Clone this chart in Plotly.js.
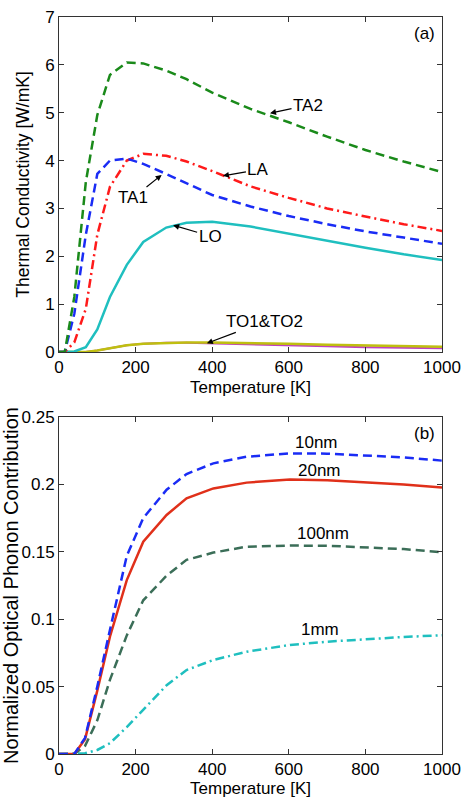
<!DOCTYPE html>
<html>
<head>
<meta charset="utf-8">
<script src="https://cdn.plot.ly/plotly-3.0.1.min.js"></script>
<style>html,body{margin:0;padding:0;background:#fff;}#chart{width:465px;height:798px;}</style>
</head>
<body>
<div id="chart"></div>
<script>
// ---- Panel (a): thermal conductivity by branch ----
const tempA = [0, 15, 40, 70, 100, 133, 177, 220, 280, 333, 400, 500, 600, 700, 800, 900, 1000];
const kTA2  = [0, 0, 1.15, 3.55, 4.95, 5.79, 6.05, 6.03, 5.88, 5.70, 5.42, 5.08, 4.80, 4.50, 4.22, 3.98, 3.76];
const kTA1  = [0, 0, 0.80, 2.45, 3.72, 4.00, 4.04, 3.93, 3.72, 3.52, 3.28, 3.04, 2.84, 2.67, 2.52, 2.39, 2.26];
const kLA   = [0, 0, 0.20, 0.90, 2.45, 3.45, 4.00, 4.14, 4.10, 3.98, 3.78, 3.46, 3.22, 3.00, 2.83, 2.67, 2.53];
const kLO   = [0, 0, 0.01, 0.10, 0.47, 1.15, 1.82, 2.30, 2.60, 2.70, 2.72, 2.62, 2.47, 2.32, 2.18, 2.04, 1.92];
const kTO1  = [0, 0, 0, 0, 0.03, 0.08, 0.14, 0.17, 0.19, 0.19, 0.18, 0.16, 0.14, 0.12, 0.10, 0.09, 0.08];
const kTO2  = [0, 0, 0, 0, 0.03, 0.08, 0.14, 0.17, 0.19, 0.20, 0.20, 0.19, 0.17, 0.15, 0.14, 0.12, 0.11];

// ---- Panel (b): normalized optical phonon contribution ----
const tempB  = [0, 40, 68, 100, 133, 177, 220, 281, 333, 403, 490, 603, 700, 800, 900, 1000];
const opt10nm  = [0, 0, 0.012, 0.050, 0.092, 0.147, 0.175, 0.196, 0.2077, 0.2156, 0.2205, 0.2230, 0.2228, 0.2215, 0.2200, 0.2176];
const opt20nm  = [0, 0, 0.011, 0.047, 0.087, 0.129, 0.1575, 0.1773, 0.1897, 0.1970, 0.2013, 0.2036, 0.2030, 0.2015, 0.2000, 0.1976];
const opt100nm = [0, 0, 0.006, 0.025, 0.055, 0.088, 0.114, 0.1323, 0.1440, 0.1494, 0.1538, 0.1546, 0.1545, 0.1535, 0.1520, 0.1496];
const opt1mm   = [0, 0, 0.0005, 0.003, 0.008, 0.020, 0.033, 0.051, 0.0623, 0.0697, 0.0759, 0.0809, 0.0833, 0.0851, 0.0868, 0.0881];

const xTicks = [0, 200, 400, 600, 800, 1000];
const yTicksA = [0, 1, 2, 3, 4, 5, 6, 7];
const yTicksB = [0, 0.05, 0.1, 0.15, 0.2, 0.25];

const FONT = 'Liberation Sans, Arial, Helvetica, sans-serif';
const DASH = '9px,5px';
const DASHDOT = '9px,4px,2px,4px';

function line(x, y, color, dash, xa, ya, w) {
  return {x: x, y: y, type: 'scatter', mode: 'lines', xaxis: xa, yaxis: ya,
          line: {color: color, width: w || 2.5, dash: dash}, showlegend: false, hoverinfo: 'skip'};
}

const traces = [
  line(tempA, kTO1, '#c040c0', 'solid', 'x', 'y', 2),
  line(tempA, kTO2, '#bfbf10', 'solid', 'x', 'y', 2.5),
  line(tempA, kLO, '#1fbfbf', 'solid', 'x', 'y'),
  line(tempA, kLA, '#ff1a1a', DASHDOT, 'x', 'y'),
  line(tempA, kTA1, '#1a2cf5', DASH, 'x', 'y'),
  line(tempA, kTA2, '#1a8a1a', DASH, 'x', 'y'),
  line(tempB, opt1mm, '#1fbfbf', DASHDOT, 'x2', 'y2'),
  line(tempB, opt100nm, '#3b6e58', DASH, 'x2', 'y2'),
  line(tempB, opt20nm, '#e0301a', 'solid', 'x2', 'y2'),
  line(tempB, opt10nm, '#1a2cf5', DASH, 'x2', 'y2')
];

const axisCommon = {
  showline: true, linecolor: '#333', linewidth: 1, mirror: 'ticks',
  ticks: 'inside', ticklen: 5, tickcolor: '#333', tickwidth: 1,
  showgrid: false, zeroline: false, automargin: false,
  tickfont: {family: FONT, size: 17, color: '#000'}
};

const labelFont = {family: FONT, size: 17, color: '#000'};
function arrowNote(x, y, ax, ay, text, xr, yr) {
  return {x: x, y: y, xref: xr, yref: yr, text: text, showarrow: true,
          ax: ax, ay: ay, arrowhead: 2, arrowsize: 1, arrowwidth: 1.2, arrowcolor: '#000',
          standoff: 0, font: labelFont};
}
function textNote(x, y, text, xr, yr) {
  return {x: x, y: y, xref: xr, yref: yr, text: text, showarrow: false, font: labelFont};
}

const layout = {
  width: 465, height: 798,
  margin: {l: 59, r: 23, t: 17, b: 44},
  paper_bgcolor: '#fff', plot_bgcolor: '#fff',
  font: {family: FONT, size: 17, color: '#000'},
  xaxis: Object.assign({}, axisCommon, {
    domain: [0, 1], anchor: 'y', range: [0, 1000], tickvals: xTicks,
    title: {text: 'Temperature [K]', font: {family: FONT, size: 17, color: '#000'}, standoff: 4}
  }),
  yaxis: Object.assign({}, axisCommon, {
    domain: [0.5455, 1], anchor: 'x', range: [0, 7], tickvals: yTicksA,
    title: {text: 'Thermal Conductivity [W/mK]', font: {family: FONT, size: 17.5, color: '#000'}, standoff: 10}
  }),
  xaxis2: Object.assign({}, axisCommon, {
    domain: [0, 1], anchor: 'y2', range: [0, 1000], tickvals: xTicks,
    title: {text: 'Temperature [K]', font: {family: FONT, size: 17, color: '#000'}, standoff: 4}
  }),
  yaxis2: Object.assign({}, axisCommon, {
    domain: [0, 0.4573], anchor: 'x2', range: [0, 0.25], tickvals: yTicksB,
    title: {text: 'Normalized Optical Phonon Contribution', font: {family: FONT, size: 20, color: '#000'}, standoff: 6}
  }),
  annotations: [
    textNote(955, 6.66, '(a)', 'x', 'y'),
    arrowNote(551, 4.99, 38, -8, 'TA2', 'x', 'y'),
    arrowNote(428, 3.68, 35, -6, 'LA', 'x', 'y'),
    arrowNote(268, 3.70, -29, 23, 'TA1', 'x', 'y'),
    arrowNote(298, 2.65, 37, 11, 'LO', 'x', 'y'),
    arrowNote(386, 0.18, 58, -22, 'TO1&amp;TO2', 'x', 'y'),
    textNote(955, 0.238, '(b)', 'x2', 'y2'),
    textNote(673, 0.231, '10nm', 'x2', 'y2'),
    textNote(680, 0.210, '20nm', 'x2', 'y2'),
    textNote(690, 0.1632, '100nm', 'x2', 'y2'),
    textNote(681, 0.092, '1mm', 'x2', 'y2')
  ]
};

Plotly.newPlot('chart', traces, layout, {staticPlot: true, displayModeBar: false});
</script>
</body>
</html>
